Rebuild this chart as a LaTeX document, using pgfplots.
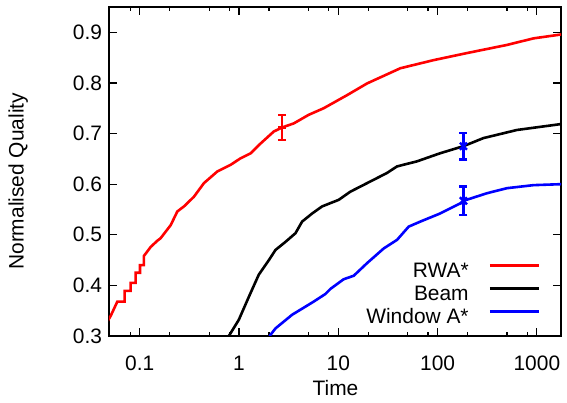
\documentclass[border=0pt]{standalone}
\usepackage{fontspec}
\setmainfont{Liberation Sans}
\usepackage{pgfplots}
\pgfplotsset{compat=1.18}

\begin{document}
\begin{tikzpicture}[font=\fontsize{10.5}{12.6}\selectfont]
\begin{axis}[
    scale only axis,
    width=226bp, height=164.5bp,
    xmode=log, log basis x=10,
    xmin=0.049, xmax=1750,
    ymin=0.3, ymax=0.95,
    xtick={0.1,1,10,100,1000},
    xticklabels={0.1,1,10,100,1000},
    minor xtick={0.08,0.2,0.5,0.8,2,5,8,20,50,80,200,500,800},
    ytick={0.3,0.4,0.5,0.6,0.7,0.8,0.9},
    yticklabel style={/pgf/number format/.cd, fixed, fixed zerofill, precision=1},
    xticklabel style={yshift=-6.5bp},
    /pgf/number format/assume math mode=true,
    major tick length=4bp, minor tick length=2bp,
    tick style={black, line width=0.6bp},
    axis line style={line width=0.8bp},
    xlabel={Time}, ylabel={Normalised Quality},
    xlabel style={at={(axis description cs:0.501,-0.158)}, anchor=center},
    ylabel style={at={(axis description cs:-0.201,0.47)}, anchor=center},
    legend plot pos=right,
    legend cell align=right,
    legend style={draw=none, fill=none, inner xsep=0pt, inner ysep=0pt,
        at={(rel axis cs:0.955,0.023)}, anchor=south east,
        row sep=1bp, column sep=10bp,
        nodes={inner sep=0pt, text height=8bp, text depth=2.5bp}},
    legend image code/.code={\draw[#1] (0bp,0.3em) -- (24.5bp,0.3em);},
]
% RWA*
\addplot[red, line width=1.3bp] coordinates {
 (0.046,0.325) (0.0509,0.3395) (0.0595,0.368) (0.0705,0.368) (0.0705,0.389)
 (0.0809,0.389) (0.0809,0.405) (0.091,0.405) (0.091,0.425) (0.1005,0.425)
 (0.1005,0.440) (0.110,0.440) (0.110,0.458) (0.129,0.476) (0.150,0.488)
 (0.162,0.493) (0.205,0.519) (0.239,0.546) (0.279,0.556) (0.351,0.575)
 (0.443,0.602) (0.604,0.625) (0.821,0.638) (1.035,0.651) (1.31,0.661)
 (1.58,0.677) (2.24,0.704) (2.72,0.712) (3.56,0.720) (5.04,0.737)
 (7.13,0.750) (12.3,0.776) (19.5,0.799) (42.2,0.829) (91.2,0.845)
 (198,0.859) (499,0.875) (925,0.888) (1800,0.896)
};
\addlegendentry{RWA*}
% Beam
\addplot[black, line width=1.3bp] coordinates {
 (0.75,0.29) (0.79,0.300) (0.995,0.332) (1.26,0.378) (1.58,0.421)
 (2.0,0.450) (2.33,0.470) (2.94,0.486) (3.70,0.503) (4.32,0.526)
 (5.45,0.542) (6.87,0.556) (10.1,0.569) (13.2,0.585) (19.5,0.602)
 (30.9,0.622) (39,0.635) (62,0.645) (106,0.661) (182,0.675)
 (290,0.691) (630,0.707) (1800,0.719)
};
\addlegendentry{Beam}
% Window A*
\addplot[blue, line width=1.3bp] coordinates {
 (1.95,0.29) (2.07,0.302) (2.33,0.315) (3.43,0.342) (4.67,0.358)
 (5.66,0.368) (7.42,0.383) (8.33,0.393) (11.3,0.412) (14.3,0.419)
 (19.5,0.444) (28.7,0.473) (39.1,0.490) (51.1,0.516) (67,0.526)
 (106,0.542) (169,0.562) (182,0.567) (314,0.582) (499,0.592)
 (925,0.598) (1800,0.600)
};
\addlegendentry{Window A*}
% error bars
\addplot[forget plot, only marks, red, line width=1.2bp, mark=+, mark size=2bp,
    error bars/.cd, y dir=both, y explicit,
    error bar style={line width=1.2bp},
    error mark options={rotate=90, mark size=2bp, line width=1.2bp}]
    coordinates {(2.72,0.712) +- (0,0.025)};
\addplot[forget plot, only marks, blue, line width=1.2bp, mark=x, mark size=2.5bp,
    error bars/.cd, y dir=both, y explicit,
    error bar style={line width=1.2bp},
    error mark options={rotate=90, mark size=2bp, line width=1.2bp}]
    coordinates {(182,0.675) +- (0,0.026) (182,0.567) +- (0,0.028)};
\end{axis}
\path ([shift={(-54.5bp,-33bp)}]current axis.south west)
      rectangle ([shift={(3bp,3.5bp)}]current axis.north east);
\end{tikzpicture}
\end{document}
